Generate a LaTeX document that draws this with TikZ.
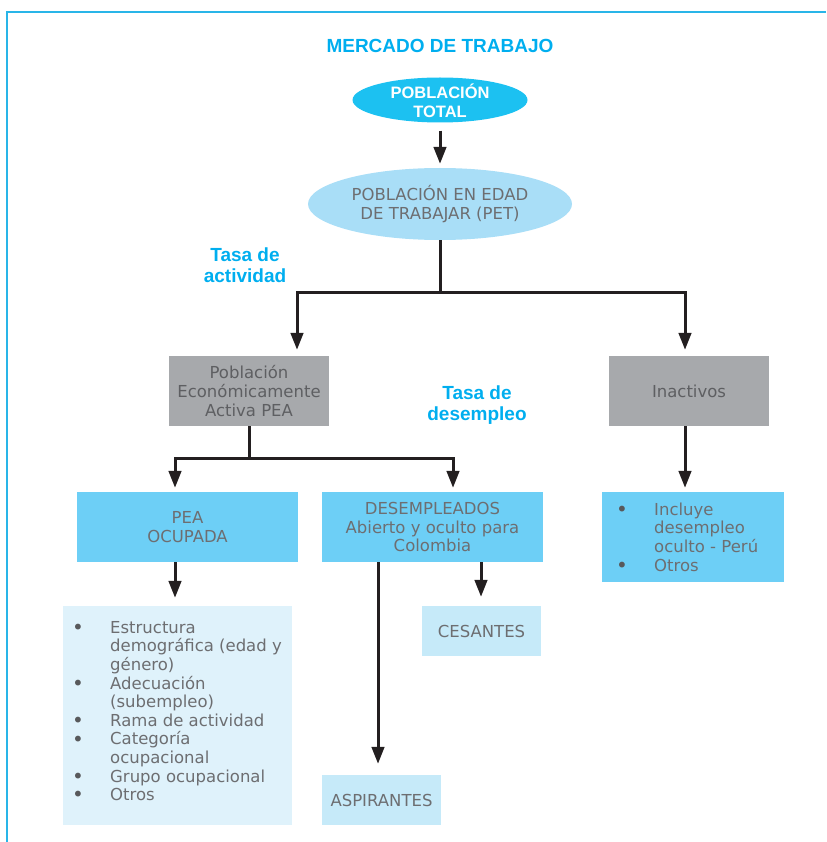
\documentclass[tikz,border=0pt]{standalone}
\usepackage{fontspec}
\setmainfont{DejaVu Sans}
\newfontfamily\headfont{Liberation Sans}
\usetikzlibrary{shapes.geometric,arrows.meta,calc}
\definecolor{framec}{HTML}{29B5E8}
\definecolor{titlec}{HTML}{00AEEF}
\definecolor{ellA}{HTML}{1CC1F1}
\definecolor{ellB}{HTML}{A9DEF7}
\definecolor{grayb}{HTML}{A7A9AC}
\definecolor{blueb}{HTML}{6DCFF6}
\definecolor{lightb}{HTML}{DFF2FB}
\definecolor{paleb}{HTML}{C6EAF9}
\definecolor{txtg}{HTML}{6D6E71}
\definecolor{txtd}{HTML}{5E5F62}
\definecolor{bulc}{HTML}{58595B}
\definecolor{arrc}{HTML}{231F20}
\newcommand{\bul}{\makebox[38pt][l]{\smash{\raisebox{-1.2pt}{\color{bulc}\fontsize{20}{18.6}\selectfont\textbullet}}}}
\newcommand{\ind}{\hspace*{38pt}}
\begin{document}
\begin{tikzpicture}[x=1pt,y=-1pt,
  bodyf/.style={font=\fontsize{16.5}{18.6}\selectfont, text=txtg, align=center, inner sep=0},
  headlbl/.style={font=\headfont\bfseries\fontsize{19}{21.5}\selectfont, text=titlec, align=center, inner sep=0},
  rbox/.style={rectangle, inner sep=0, bodyf},
  graybox/.style={rbox, fill=grayb, text=txtd, minimum width=160pt, minimum height=70pt},
  bluebox/.style={rbox, fill=blueb, minimum width=221pt, minimum height=70pt},
  palebox/.style={rbox, fill=paleb, minimum width=119pt, minimum height=50pt},
  listtext/.style={bodyf, align=left, anchor=west},
  ln/.style={draw=arrc, line width=3pt},
  arr/.style={ln, -{Triangle[length=17pt,width=12.5pt]}}
]
\useasboundingbox (0,0) rectangle (826,842);
% frame
\draw[framec, line width=2pt] (7,842) -- (7,12) -- (826,12);

% title
\node[headlbl] (title) at (440,46) {MERCADO DE TRABAJO};

% ellipses
\node[ellipse, fill=ellA, minimum width=175pt, minimum height=45pt, inner sep=0] (pt) at (440,100) {};
\node[font=\headfont\bfseries\fontsize{16.5}{19}\selectfont, text=white, align=center, inner sep=0] (pttext) at (440,100.5) {POBLACIÓN\\TOTAL};
\node[ellipse, fill=ellB, minimum width=264pt, minimum height=72pt, inner sep=0, bodyf] (pet) at (440,204) {POBLACIÓN EN EDAD\\DE TRABAJAR (PET)};

% labels
\node[headlbl] (tact) at (245,265) {Tasa de\\actividad};
\node[headlbl] (tdes) at (477,405) {Tasa de\\desempleo};

% boxes
\node[graybox] (pea) at (249,391) {Población\\Económicamente\\Activa PEA};
\node[graybox] (inac) at (689,391) {Inactivos};
\node[bluebox] (peaoc) at (187.5,527) {PEA\\OCUPADA};
\node[bluebox] (desem) at (432.5,527) {DESEMPLEADOS\\Abierto y oculto para\\Colombia};
\node[rbox, fill=blueb, minimum width=182pt, minimum height=90pt] (inlist) at (693,537) {};
\node[listtext] (inlisttext) at (616,537) {\bul Incluye\\\ind desempleo\\\ind oculto - Perú\\\bul Otros};
\node[rbox, fill=lightb, minimum width=229pt, minimum height=219pt] (oclist) at (177.5,715.5) {};
\node[listtext] (oclisttext) at (72,711) {\bul Estructura\\\ind demográfica (edad y\\\ind género)\\\bul Adecuación\\\ind (subempleo)\\\bul Rama de actividad\\\bul Categoría\\\ind ocupacional\\\bul Grupo ocupacional\\\bul Otros};
\node[palebox] (ces) at (481.5,631) {CESANTES};
\node[palebox] (asp) at (381.5,800) {ASPIRANTES};

% connectors
\draw[arr, shorten <=8pt, shorten >=4pt] (pt) -- (pet);
\coordinate (j1) at (440,292);
\draw[ln] (pet.south) -- (j1);
\coordinate (pe1) at ($(pea.north)+(48,0)$);
\coordinate (in1) at ($(inac.north)+(-4,0)$);
\draw[arr, shorten >=6pt] (j1) -| (pe1);
\draw[arr, shorten >=6pt] (j1) -| (in1);

\coordinate (j2) at (249,458);
\draw[ln] (pea.south) -- (j2);
\coordinate (po1) at ($(peaoc.north)+(-12.5,0)$);
\coordinate (de1) at ($(desem.north)+(20.5,0)$);
\draw[arr, shorten >=4pt] (j2) -| (po1);
\draw[arr, shorten >=4pt] (j2) -| (de1);

\coordinate (in2) at ($(inac.south)+(-4,0)$);
\draw[arr, shorten >=4pt] (in2) -- (in2 |- inlist.north);
\coordinate (po2) at ($(peaoc.south)+(-12.5,0)$);
\draw[arr, shorten >=8pt] (po2) -- (po2 |- oclist.north);
\coordinate (de2) at ($(desem.south)+(-54.5,0)$);
\draw[arr, shorten >=11pt] (de2) -- (de2 |- asp.north);
\coordinate (de3) at ($(desem.south)+(48.5,0)$);
\draw[arr, shorten >=9pt] (de3) -- (de3 |- ces.north);
\end{tikzpicture}
\end{document}
